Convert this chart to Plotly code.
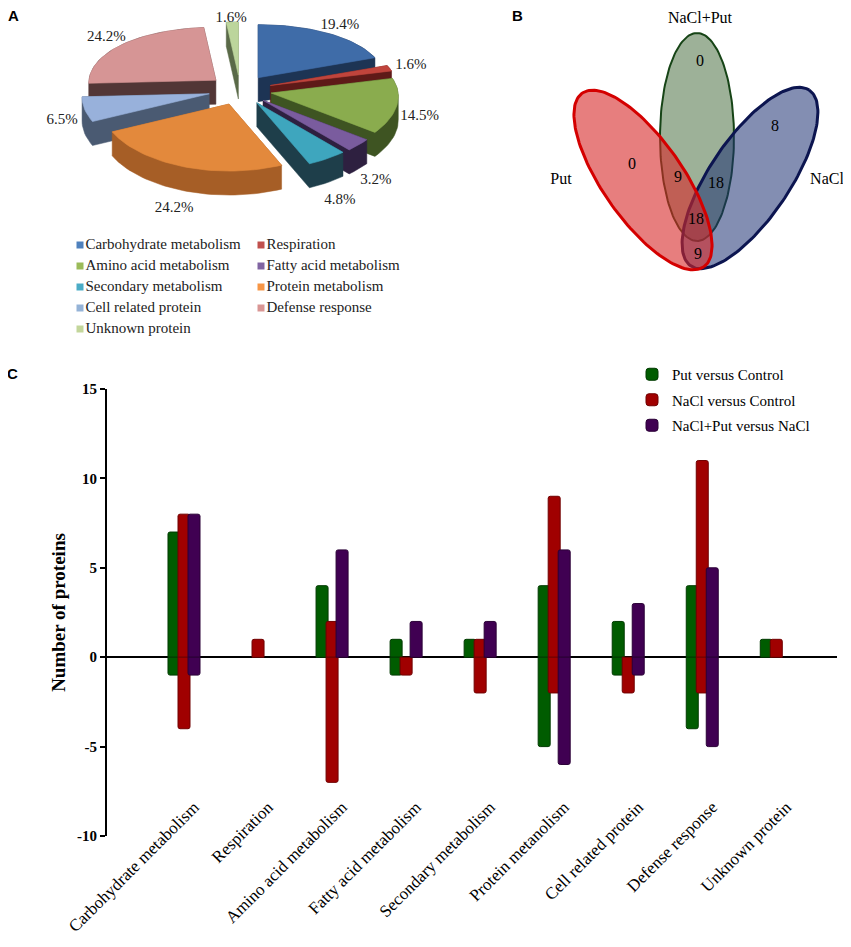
import numpy as np
import plotly.graph_objects as go

# page body has an 8px margin, so the figure is sized to fit the 851x947 window
OFF = 8
W, H = 851 - OFF, 947 - OFF
SERIF = "Liberation Serif, Times New Roman, serif"
SANS = "Liberation Sans, Arial, sans-serif"


def px(p):
    return (p - OFF) / W


def py(p):
    return 1 - (p - OFF) / H


# ---- Panel A: protein categories (counts out of 62 proteins)
pie_labels = [
    "Carbohydrate metabolism", "Respiration", "Amino acid metabolism",
    "Fatty acid metabolism", "Secondary metabolism", "Protein metabolism",
    "Cell related protein", "Defense response", "Unknown protein",
]
pie_counts = [12, 1, 9, 2, 3, 15, 4, 15, 1]
pie_top = ["#3f6ca8", "#c0443c", "#8aac4e", "#7a5c9e", "#3ea6be",
           "#e3893c", "#98b1db", "#d69595", "#bcd59c"]
pie_side = ["#1d3454", "#5e1a18", "#3e5422", "#2e2040", "#1e3e4a",
            "#a65e26", "#4a5a72", "#523636", "#5a6a48"]
legend_swatch = ["#4f81bd", "#c0504d", "#9bbb59", "#8064a2", "#4bacc6",
                 "#f79646", "#95b3d7", "#d99694", "#c3d69b"]

# ---- Panel B: Venn counts
venn_sets = ["NaCl+Put", "Put", "NaCl"]
venn_counts = [0, 0, 8, 9, 18, 18, 9]

# ---- Panel C: up / down regulated proteins per category
categories = [
    "Carbohydrate metabolism", "Respiration", "Amino acid metabolism",
    "Fatty acid metabolism", "Secondary metabolism", "Protein metanolism",
    "Cell related protein", "Defense response", "Unknown protein",
]
series_names = ["Put versus Control", "NaCl versus Control", "NaCl+Put versus NaCl"]
put_up = [7, 0, 4, 1, 1, 4, 2, 4, 1]
put_down = [-1, 0, 0, -1, 0, -5, -1, -4, 0]
nacl_up = [8, 1, 2, 0, 1, 9, 0, 11, 1]
nacl_down = [-4, 0, -7, -1, -2, -2, -2, -2, 0]
nput_up = [8, 0, 6, 2, 2, 6, 3, 5, 0]
nput_down = [-1, 0, 0, 0, 0, -6, -1, -5, 0]
bar_colors = ["#005c00", "#a00000", "#400052"]
bar_edges = ["#003a00", "#700000", "#2a0036"]


def hull(pts):
    pts = sorted(set(pts))

    def cross(o, a, b):
        return (a[0] - o[0]) * (b[1] - o[1]) - (a[1] - o[1]) * (b[0] - o[0])

    lower, upper = [], []
    for p in pts:
        while len(lower) >= 2 and cross(lower[-2], lower[-1], p) <= 0:
            lower.pop()
        lower.append(p)
    for p in reversed(pts):
        while len(upper) >= 2 and cross(upper[-2], upper[-1], p) <= 0:
            upper.pop()
        upper.append(p)
    return lower[:-1] + upper[:-1]


def ellipse(cx, cy, a, b, ang, n=160):
    t = np.linspace(0, 2 * np.pi, n)
    ca, sa = np.cos(np.radians(ang)), np.sin(np.radians(ang))
    x = cx + a * np.cos(t) * ca - b * np.sin(t) * sa
    y = cy + a * np.cos(t) * sa + b * np.sin(t) * ca
    return x, y


fig = go.Figure()

# ---------------- A: exploded pseudo-3D pie (pixel coords on overlay axes)
pcx, pcy, rx, ry, depth, pull = 240, 90, 127, 60, 24, 0.25
kx, ky = 0.055, 0.117  # mild perspective: back smaller than front
total = sum(pie_counts)
edges = np.cumsum([0] + pie_counts) / total * 2 * np.pi
mids = (edges[:-1] + edges[1:]) / 2
order = np.argsort(-np.cos(mids))

lab_x, lab_y, lab_t = [], [], []
for i in order:
    a0, a1, m = edges[i], edges[i + 1], mids[i]
    tx = pcx + pull * rx * np.sin(m)
    ty = pcy - pull * ry * np.cos(m)
    t = np.linspace(a0, a1, max(3, int(np.degrees(a1 - a0) / 2)))
    fx = [tx] + list(tx + rx * (1 - kx * np.cos(t)) * np.sin(t))
    fy = [ty] + list(ty - ry * (1 - ky * np.cos(t)) * np.cos(t))
    pts = [(x, y) for x, y in zip(fx, fy)] + [(x, y + depth) for x, y in zip(fx, fy)]
    h = hull(pts)
    fig.add_trace(go.Scatter(
        x=[p[0] for p in h] + [h[0][0]], y=[p[1] for p in h] + [h[0][1]],
        fill="toself", fillcolor=pie_side[i], mode="lines",
        line=dict(width=0.5, color=pie_side[i]), hoverinfo="skip", showlegend=False,
    ))
    fig.add_trace(go.Scatter(
        x=fx + [fx[0]], y=fy + [fy[0]], fill="toself", fillcolor=pie_top[i],
        mode="lines", line=dict(width=0.6, color=pie_top[i]),
        name=pie_labels[i], showlegend=False,
    ))
    front = max(0, -np.cos(m))
    side = max(0, np.sin(m))
    lab_x.append(tx + 1.18 * rx * (1 - kx * np.cos(m)) * np.sin(m))
    ly = ty - 1.18 * ry * (1 - ky * np.cos(m)) * np.cos(m) + (depth + 8) * front + 10 * side * front
    lab_y.append(max(ly, 18))
    lab_t.append(f"{100 * pie_counts[i] / total:.1f}%")

fig.add_trace(go.Scatter(
    x=lab_x, y=lab_y, text=lab_t, mode="text", hoverinfo="skip", showlegend=False,
    textfont=dict(family=SERIF, size=15, color="#222222"),
))

# pie legend, two columns
leg_x = [80 + 181 * (k % 2) for k in range(len(pie_labels))]
leg_y = [245 + 21 * (k // 2) for k in range(len(pie_labels))]
fig.add_trace(go.Scatter(
    x=leg_x, y=leg_y, text=pie_labels, mode="markers+text", textposition="middle right",
    marker=dict(symbol="square", size=7, color=legend_swatch),
    textfont=dict(family=SERIF, size=15, color="#222222"),
    hoverinfo="skip", showlegend=False,
))

# ---------------- B: Venn diagram
venn_shapes = [
    # (cx, cy, a, b, angle, fill, outline, width)
    (697, 137, 104, 37, 90, "rgba(60,100,50,0.5)", "#164416", 2),
    (750, 178, 106, 40, -56, "rgba(30,50,115,0.55)", "#0c1550", 3),
    (643, 180, 106, 40, 55, "rgba(215,40,40,0.6)", "#d40000", 3),
]
for cx, cy, a, b, ang, fc, lc, lw in venn_shapes:
    ex, ey = ellipse(cx, cy, a, b, ang)
    fig.add_trace(go.Scatter(
        x=ex, y=ey, fill="toself", fillcolor=fc, mode="lines",
        line=dict(color=lc, width=lw), hoverinfo="skip", showlegend=False,
    ))

venn_set_pos = [(700, 19), (561, 180), (827, 180)]
fig.add_trace(go.Scatter(
    x=[p[0] for p in venn_set_pos], y=[p[1] for p in venn_set_pos], text=venn_sets,
    mode="text", hoverinfo="skip", showlegend=False,
    textfont=dict(family=SERIF, size=16, color="black"),
))
venn_count_pos = [(700, 62), (632, 165), (775, 127), (678, 178), (716, 184), (696, 220), (698, 255)]
fig.add_trace(go.Scatter(
    x=[p[0] for p in venn_count_pos], y=[p[1] for p in venn_count_pos],
    text=[str(v) for v in venn_counts], mode="text", hoverinfo="skip", showlegend=False,
    textfont=dict(family=SERIF, size=16, color="black"),
))

# ---------------- C: bar chart
bar_w = 12 / 74
offsets = [-16 / 74, -6 / 74, 4 / 74]
series = [(put_up, put_down), (nacl_up, nacl_down), (nput_up, nput_down)]
for k, (up, down) in enumerate(series):
    for vals, show in ((up, True), (down, False)):
        fig.add_trace(go.Bar(
            x=categories, y=[v if v else None for v in vals],
            width=bar_w, offset=offsets[k], name=series_names[k],
            legendgroup=series_names[k], showlegend=show,
            marker=dict(color=bar_colors[k], line=dict(color=bar_edges[k], width=1),
                        cornerradius=2),
            xaxis="x2", yaxis="y2",
        ))

fig.update_layout(
    width=W, height=H, margin=dict(l=0, r=0, t=0, b=0, autoexpand=False),
    plot_bgcolor="white", paper_bgcolor="white",
    barmode="overlay", hovermode=False,
    xaxis=dict(range=[OFF, OFF + W], domain=[0, 1], visible=False, fixedrange=True),
    yaxis=dict(range=[OFF + H, OFF], domain=[0, 1], visible=False, fixedrange=True),
    xaxis2=dict(
        domain=[px(107), px(837)], anchor="free", position=py(793),
        range=[-1.04, 8.82], showline=False, ticks="", showgrid=False, automargin=False,
        tickangle=-45, ticklabelshift=10,
        tickfont=dict(family=SERIF, size=17, color="black"),
    ),
    yaxis2=dict(
        domain=[py(836), py(389)], anchor="x2", range=[-10, 15],
        tickvals=[-10, -5, 0, 5, 10, 15], ticktext=["-10", "-5", "0", "5", "10", "15"],
        showgrid=False, automargin=False,
        showline=True, linecolor="black", linewidth=2,
        ticks="outside", ticklen=5, tickwidth=2, tickcolor="black",
        zeroline=True, zerolinecolor="black", zerolinewidth=1.5, layer="above traces",
        tickfont=dict(family=SERIF, size=15, color="black", weight="bold"),
        title=dict(text="Number of proteins", standoff=6,
                   font=dict(family=SERIF, size=19, color="black", weight="bold")),
    ),
    legend=dict(
        x=px(632), y=py(358), xanchor="left", yanchor="top",
        font=dict(family=SERIF, size=15, color="black"),
        tracegroupgap=3, bgcolor="rgba(0,0,0,0)",
    ),
    annotations=[
        dict(text="<b>A</b>", x=px(13), y=py(16), xref="paper", yref="paper",
             xanchor="center", yanchor="middle", showarrow=False,
             font=dict(family=SANS, size=15, color="black")),
        dict(text="<b>B</b>", x=px(517), y=py(16), xref="paper", yref="paper",
             xanchor="center", yanchor="middle", showarrow=False,
             font=dict(family=SANS, size=15, color="black")),
        dict(text="<b>C</b>", x=px(12), y=py(373), xref="paper", yref="paper",
             xanchor="center", yanchor="middle", showarrow=False,
             font=dict(family=SANS, size=15, color="black")),
    ],
)

fig.write_html("out.html")
